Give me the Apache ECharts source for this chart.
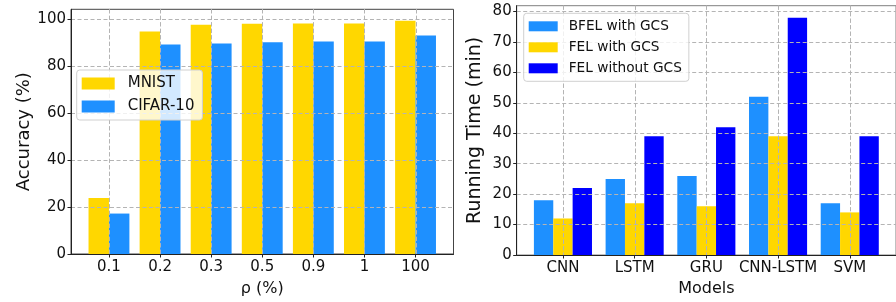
<!DOCTYPE html>
<html><head><meta charset="utf-8">
<script src="https://cdn.jsdelivr.net/npm/echarts@6/dist/echarts.min.js"></script>
<style>html,body{margin:0;padding:0;background:#fff}#c{width:896px;height:302px}</style>
</head><body><div id="c"></div>
<script>
const rhoCategories = ['0.1', '0.2', '0.3', '0.5', '0.9', '1', '100'];
const mnistAcc = [23.8, 94.6, 97.5, 97.9, 98.0, 98.0, 99.2];
const cifarAcc = [17.2, 89.1, 89.5, 90.0, 90.4, 90.4, 92.9];
const accTicks = [0, 20, 40, 60, 80, 100];

const modelCategories = ['CNN', 'LSTM', 'GRU', 'CNN-LSTM', 'SVM'];
const bfelWithGcs = [18, 25, 26, 52, 17];
const felWithGcs = [12, 17, 16, 39, 14];
const felWithoutGcs = [22, 39, 42, 78, 39];
const timeTicks = [0, 10, 20, 30, 40, 50, 60, 70, 80];

const FONT = 'DejaVu Sans';
const GRID_COLOR = '#b4b4b4';
const DASH = [4, 2.5];
const Y_MAX = [104.06, 81.93];
const pairs = arr => arr.map((v, i) => [i, v]);
const catIdx = arr => arr.map((_, i) => i);
const dashed = { show: true, lineStyle: { color: GRID_COLOR, type: DASH, width: 1 } };

function vGridSeries(grid, cats) {
  return {
    name: 'vgrid' + grid, type: 'custom', xAxisIndex: grid, yAxisIndex: grid, z: 3, silent: true,
    encode: { x: 0, y: 1 },
    data: catIdx(cats).map(i => [i, 0]),
    renderItem: function (params, api) {
      const p = api.coord([api.value(0), 0]);
      const cs = params.coordSys;
      const x = Math.round(p[0]) + 0.5;
      return {
        type: 'line', silent: true,
        shape: { x1: x, y1: cs.y, x2: x, y2: cs.y + cs.height },
        style: { stroke: GRID_COLOR, lineWidth: 1, lineDash: DASH, fill: null }
      };
    }
  };
}
function xAxisFor(grid, cats, min, max, name, nameSize, nameGap) {
  return {
    type: 'value', gridIndex: grid, min: min, max: max, z: 3,
    axisLine: { show: true, onZero: false, lineStyle: { color: '#222', width: 1 } },
    axisTick: { show: true, customValues: catIdx(cats), length: 3.5, lineStyle: { color: '#222' } },
    axisLabel: { customValues: catIdx(cats), formatter: v => cats[Math.round(v)], fontSize: 15, color: '#111', fontFamily: FONT, margin: 6 },
    splitLine: { show: false },
    name: name, nameLocation: 'middle', nameGap: nameGap,
    nameTextStyle: { fontSize: nameSize, color: '#111', fontFamily: FONT }
  };
}
function yAxisFor(grid, ticks, max, name, nameSize, nameGap) {
  return {
    type: 'value', gridIndex: grid, min: 0, max: max, z: 3,
    axisLine: { show: true, onZero: false, lineStyle: { color: '#222', width: 1 } },
    axisTick: { show: true, customValues: ticks, length: 3.5, lineStyle: { color: '#222' } },
    axisLabel: { customValues: ticks, fontSize: 15, color: '#111', fontFamily: FONT, margin: 5 },
    splitLine: dashed,
    name: name, nameLocation: 'middle', nameGap: nameGap,
    nameTextStyle: { fontSize: nameSize, color: '#111', fontFamily: FONT }
  };
}
function legendFor(names, left, top, iw, ih, gap, fs, textPad, pad) {
  return {
    data: names, orient: 'vertical', left: left, top: top,
    icon: 'rect', itemWidth: iw, itemHeight: ih, itemGap: gap,
    textStyle: { fontSize: fs, color: '#111', fontFamily: FONT, padding: [0, 0, 0, textPad] },
    backgroundColor: 'rgba(255,255,255,0.8)', borderColor: '#d0d0d0', borderWidth: 1, borderRadius: 3,
    padding: pad, z: 10
  };
}

const chart = echarts.init(document.getElementById('c'), null, { renderer: 'canvas' });
chart.setOption({
  animation: false,
  backgroundColor: '#fff',
  grid: [
    { left: 71, top: 9.3, width: 382.5, height: 248.4, show: true, borderColor: '#444', borderWidth: 1 },
    { left: 516.7, top: 5.7, width: 391.3, height: 254.3, show: true, borderColor: '#808080', borderWidth: 1 }
  ],
  xAxis: [
    xAxisFor(0, rhoCategories, -0.743, 6.743, 'ρ (%)', 16, 27),
    xAxisFor(1, modelCategories, -0.645, 4.645, 'Models', 16, 26)
  ],
  yAxis: [
    yAxisFor(0, accTicks, Y_MAX[0], 'Accuracy (%)', 18, 37),
    yAxisFor(1, timeTicks, Y_MAX[1], 'Running Time (min)', 19, 32)
  ],
  legend: [
    legendFor(['MNIST', 'CIFAR-10'], 76.7, 70, 33, 12, 8, 15, 8, [6, 8, 6, 5]),
    legendFor(['BFEL with GCS', 'FEL with GCS', 'FEL without GCS'], 523.7, 13.3, 29, 10, 7, 13.7, 6, [6, 7, 6, 5])
  ],
  series: [
    { name: 'MNIST', type: 'bar', xAxisIndex: 0, yAxisIndex: 0, data: pairs(mnistAcc), itemStyle: { color: '#FFD700' }, barGap: '0%', barCategoryGap: '20%' },
    { name: 'CIFAR-10', type: 'bar', xAxisIndex: 0, yAxisIndex: 0, data: pairs(cifarAcc), itemStyle: { color: '#1E90FF' }, barGap: '0%', barCategoryGap: '20%' },
    { name: 'BFEL with GCS', type: 'bar', xAxisIndex: 1, yAxisIndex: 1, data: pairs(bfelWithGcs), itemStyle: { color: '#1E90FF' }, barGap: '0%', barCategoryGap: '19%' },
    { name: 'FEL with GCS', type: 'bar', xAxisIndex: 1, yAxisIndex: 1, data: pairs(felWithGcs), itemStyle: { color: '#FFD700' }, barGap: '0%', barCategoryGap: '19%' },
    { name: 'FEL without GCS', type: 'bar', xAxisIndex: 1, yAxisIndex: 1, data: pairs(felWithoutGcs), itemStyle: { color: '#0000FF' }, barGap: '0%', barCategoryGap: '19%' },
    vGridSeries(0, rhoCategories),
    vGridSeries(1, modelCategories)
  ]
});

// Vertical grid lines at category ticks, positioned through the axes' own scales.
const vLines = [];
[rhoCategories, modelCategories].forEach((cats, g) => {
  const yTop = chart.convertToPixel({ yAxisIndex: g }, Y_MAX[g]);
  const yBottom = chart.convertToPixel({ yAxisIndex: g }, 0);
  catIdx(cats).forEach(i => {
    const x = Math.round(chart.convertToPixel({ xAxisIndex: g }, i)) + 0.5;
    if (isFinite(x) && isFinite(yTop) && isFinite(yBottom)) {
      vLines.push({
        type: 'line', z: 3, silent: true,
        shape: { x1: x, y1: yTop, x2: x, y2: yBottom },
        style: { stroke: GRID_COLOR, lineWidth: 1, lineDash: DASH, fill: null }
      });
    }
  });
});
chart.setOption({ graphic: { elements: vLines } });
</script></body></html>
